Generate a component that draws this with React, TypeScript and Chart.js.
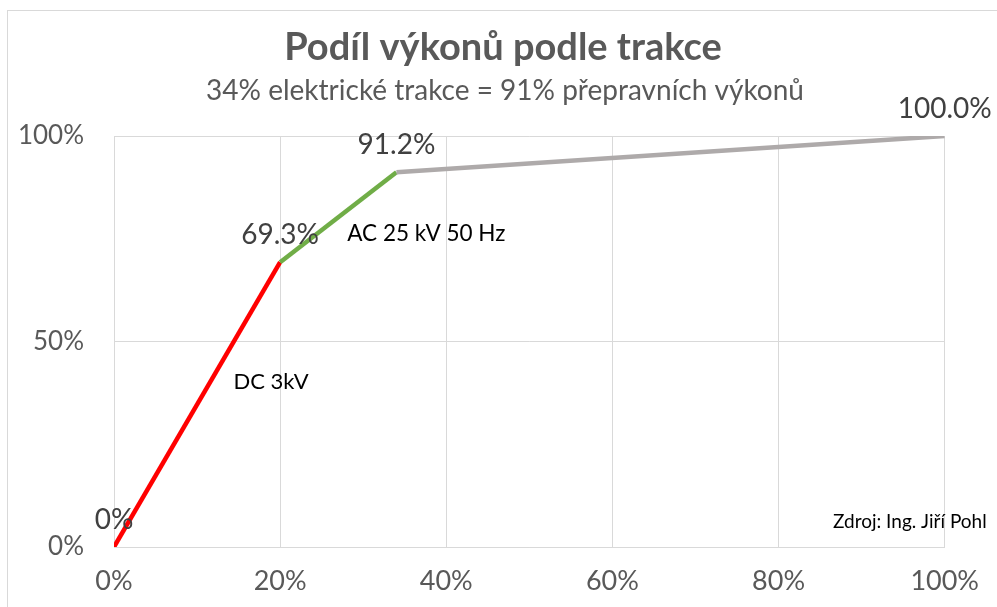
import React, { useEffect, useRef } from "react";
import { Chart, registerables } from "chart.js";

Chart.register(...registerables);

const titleText = "Podíl výkonů podle trakce";
const subtitleText = "34% elektrické trakce = 91% přepravních výkonů";
const xValues = [0, 20, 34, 100];
const yValues = [0, 69.3, 91.2, 100];
const pointLabels = ["0%", "69.3%", "91.2%", "100.0%"];
const segmentColors = ["#ff0000", "#70ad47", "#aeaaaa"];
const annotations = [
  { text: "DC 3kV", x: 18.9, y: 40.1, size: 22 },
  { text: "AC 25 kV 50 Hz", x: 37.6, y: 76.2, size: 22.5 },
  { text: "Zdroj: Ing. Jiří Pohl", x: 95.8, y: 6.1, size: 19 },
];

const FONT = "Lato, 'Open Sans', sans-serif";

export default function App() {
  const ref = useRef<HTMLCanvasElement>(null);

  useEffect(() => {
    document.body.style.margin = "0";
    const canvas = ref.current!;
    const plugin = {
      id: "decor",
      beforeDraw(chart: any) {
        const c = chart.ctx;
        c.save();
        c.fillStyle = "#ffffff";
        c.fillRect(0, 0, chart.width, chart.height);
        c.strokeStyle = "#d9d9d9";
        c.lineWidth = 1;
        c.strokeRect(7.5, 10.5, 1200, 900);
        c.textAlign = "center";
        c.textBaseline = "alphabetic";
        c.fillStyle = "#595959";
        c.font = `bold 38px ${FONT}`;
        c.fillText(titleText, 503, 60);
        c.font = `28px ${FONT}`;
        c.fillText(subtitleText, 505, 100);
        c.restore();
      },
      afterDatasetsDraw(chart: any) {
        const c = chart.ctx;
        const xs = chart.scales.x;
        const ys = chart.scales.y;
        c.save();
        c.textAlign = "center";
        c.textBaseline = "middle";
        c.fillStyle = "#404040";
        c.font = `28px ${FONT}`;
        pointLabels.forEach((t, i) => {
          const px = xs.getPixelForValue(xValues[i]);
          const py = ys.getPixelForValue(yValues[i]);
          c.fillText(t, px, py - 27);
        });
        c.fillStyle = "#000000";
        annotations.forEach((a) => {
          c.font = `${a.size}px ${FONT}`;
          c.fillText(a.text, xs.getPixelForValue(a.x), ys.getPixelForValue(a.y));
        });
        c.restore();
      },
    };

    const chart = new Chart(canvas, {
      type: "line",
      data: {
        datasets: [
          {
            data: xValues.map((x, i) => ({ x, y: yValues[i] })),
            borderWidth: 4.5,
            pointRadius: 0,
            borderColor: segmentColors[0],
            segment: {
              borderColor: (ctx: any) => segmentColors[ctx.p0DataIndex],
            },
            tension: 0,
          },
        ],
      },
      options: {
        animation: false,
        responsive: false,
        layout: { padding: { left: 0, right: 48, top: 136, bottom: 0 } },
        plugins: {
          legend: { display: false },
          tooltip: { enabled: false },
        },
        scales: {
          x: {
            type: "linear",
            min: 0,
            max: 100,
            ticks: {
              stepSize: 20,
              padding: 18,
              color: "#595959",
              font: { family: FONT, size: 27 },
              callback: (v: any) => `${v}%`,
            },
            grid: { color: "#d9d9d9", drawTicks: false },
            border: { color: "#d9d9d9" },
            afterFit: (s: any) => {
              s.height = 60;
            },
          },
          y: {
            type: "linear",
            min: 0,
            max: 100,
            ticks: {
              stepSize: 50,
              padding: 30,
              color: "#595959",
              font: { family: FONT, size: 26 },
              callback: (v: any) => `${v}%`,
            },
            grid: { color: "#d9d9d9", drawTicks: false },
            border: { color: "#d9d9d9" },
            afterFit: (s: any) => {
              s.width = 114;
            },
          },
        },
      },
      plugins: [plugin],
    } as any);
    return () => chart.destroy();
  }, []);

  return (
    <div style={{ position: "relative", width: 997, height: 607 }}>
      <canvas ref={ref} width={997} height={607} style={{ display: "block" }} />
    </div>
  );
}
